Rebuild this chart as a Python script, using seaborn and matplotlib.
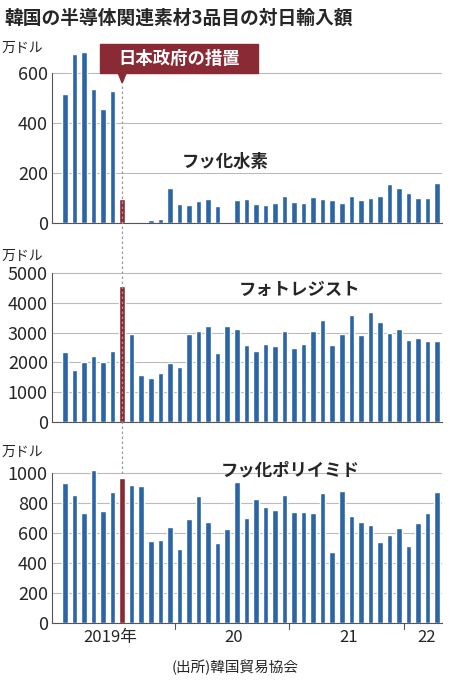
import numpy as np
import pandas as pd
import matplotlib
matplotlib.use("Agg")
import matplotlib.pyplot as plt
import seaborn as sns
from matplotlib.lines import Line2D
from matplotlib.patches import FancyBboxPatch, Polygon

sns.set_style("white")
plt.rcParams['font.family'] = ['Noto Sans CJK JP', 'DejaVu Sans']

months = pd.period_range("2019-01", "2022-04", freq="M").astype(str).tolist()
hf = [515, 675, 685, 535, 455, 530, 95, 0, 0, 10, 14, 140, 75, 72, 87, 97, 67, 5, 93, 97,
      75, 72, 78, 108, 85, 81, 105, 95, 93, 79, 108, 93, 100, 106, 157, 140, 120, 100, 99, 160]
photoresist = [2350, 1750, 2030, 2220, 2010, 2370, 4560, 2950, 1570, 1470, 1640, 1980, 1830, 2940,
               3060, 3230, 2330, 3210, 3120, 2600, 2370, 2610, 2540, 3060, 2470, 2630, 3060, 3440,
               2590, 2940, 3580, 2910, 3700, 3340, 3000, 3110, 2740, 2810, 2730, 2710]
polyimide = [930, 850, 735, 1020, 745, 875, 965, 920, 915, 545, 555, 640, 490, 695, 845, 670, 530,
             625, 940, 700, 825, 775, 750, 850, 740, 740, 730, 865, 475, 880, 715, 670, 655, 540,
             585, 630, 510, 665, 735, 870]
panel_names = ["フッ化水素", "フォトレジスト", "フッ化ポリイミド"]
yticks_list = [[0, 200, 400, 600], [0, 1000, 2000, 3000, 4000, 5000], [0, 200, 400, 600, 800, 1000]]
ylims = [692, 5370, 1073]
year_labels = ["2019年", "20", "21", "22"]
year_pos = [4.7, 17.7, 29.7, 37.9]
event_idx = 6

BLUE = "#2b65a6"
RED = "#8a2a35"
W, H = 450, 682
fig = plt.figure(figsize=(4.5, 6.82), dpi=100)

def fr(x0, ytop, x1, ybot):
    return [x0 / W, 1 - ybot / H, (x1 - x0) / W, (ybot - ytop) / H]

rects = [fr(52, 50, 442, 223), fr(52, 262, 442, 422), fr(52, 462, 442, 623)]
datas = [hf, photoresist, polyimide]
title_pos = [(225, 162), (300, 290), (290, 470)]
axes = []
for i in range(3):
    ax = fig.add_axes(rects[i])
    df = pd.DataFrame({"m": months, "v": datas[i]})
    pal = [RED if j == event_idx else BLUE for j in range(len(months))]
    sns.barplot(data=df, x="m", y="v", hue="m", palette=pal, legend=False,
                width=0.58, ax=ax, saturation=1)
    ax.set_xlim(-1.35, len(months) - 0.5)
    ax.set_ylim(0, ylims[i])
    ax.set_yticks(yticks_list[i])
    ax.set_yticklabels([str(t) for t in yticks_list[i]], fontsize=13)
    ax.tick_params(axis='y', length=0, pad=3)
    ax.set_xticks([])
    ax.set_xlabel("")
    ax.set_ylabel("")
    ax.grid(axis='y', color="#bbbbbb", linewidth=0.8)
    ax.set_axisbelow(True)
    for s in ["top", "right"]:
        ax.spines[s].set_visible(False)
    ax.spines["left"].set_color("#555555")
    ax.spines["bottom"].set_color("#555555")
    ax.spines["left"].set_bounds(0, yticks_list[i][-1])
    fig.text(title_pos[i][0] / W, 1 - title_pos[i][1] / H, panel_names[i], fontsize=12.5,
             fontweight='bold', ha='center', va='center')
    axes.append(ax)

fig.text(2 / W, 1 - 48 / H, "万ドル", fontsize=10, va='center')
fig.text(2 / W, 1 - 256 / H, "万ドル", fontsize=10, va='center')
fig.text(2 / W, 1 - 452 / H, "万ドル", fontsize=10, va='center')

fig.text(4 / W, 1 - 18 / H, "韓国の半導体関連素材3品目の対日輸入額", fontsize=13.5,
         fontweight='bold', va='center')

ax3 = axes[2]
for sep in [11.5, 23.5, 35.5]:
    ax3.plot([sep, sep], [0, -0.035], transform=ax3.get_xaxis_transform(), color="#555555",
             lw=0.8, clip_on=False)
for lab, p in zip(year_labels, year_pos):
    ax3.text(p, -0.04, lab, transform=ax3.get_xaxis_transform(), ha='center', va='top', fontsize=12)
fig.text(235 / W, 1 - 667 / H, "(出所)韓国貿易協会", fontsize=10.5, ha='center', va='center')

fig.canvas.draw()
xd = ax3.transData.transform((event_idx, 0))[0]
xf = fig.transFigure.inverted().transform((xd, 0))[0]
fig.lines.append(Line2D([xf, xf], [1 - 86 / H, 1 - 475 / H], transform=fig.transFigure,
                        color="#999999", lw=0.9, ls=(0, (2, 2)), zorder=0))

bx0, bx1, by0, by1 = 100 / W, 258 / W, 1 - 73 / H, 1 - 44 / H
fig.patches.append(FancyBboxPatch((bx0, by0), bx1 - bx0, by1 - by0, boxstyle="square,pad=0",
                                  transform=fig.transFigure, color=RED, zorder=5))
fig.patches.append(Polygon([[xf - 4 / W, by0], [xf + 4 / W, by0], [xf, by0 - 10 / H]],
                           closed=True, transform=fig.transFigure, color=RED, zorder=5))
fig.text((bx0 + bx1) / 2, (by0 + by1) / 2, "日本政府の措置", color="white", fontsize=12.5,
         fontweight='bold', ha='center', va='center', zorder=6)

fig.savefig("out.png", dpi=100)
